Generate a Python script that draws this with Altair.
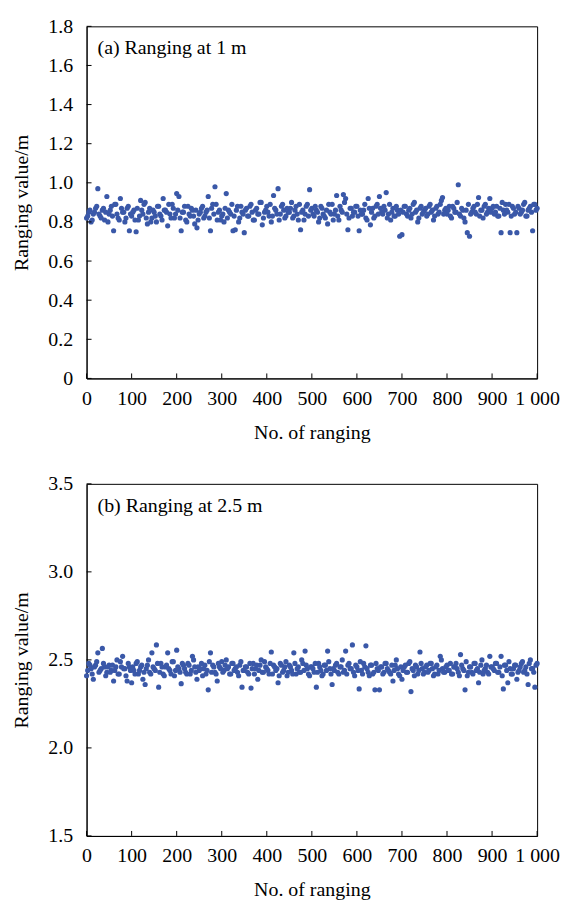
import altair as alt
import pandas as pd

FONT = "Times New Roman, Liberation Serif, DejaVu Serif, serif"
DOT = "#3A58A8"

# ranging index for the main series (0..1000 step 5) and the in-between series
x_main = list(range(0, 1001, 5))
x_fill = [2.5 + 5 * i for i in range(200)]

# (a) ranging at 1 m
top_main = [
    0.82, 0.85, 0.80, 0.84, 0.87, 0.97, 0.83, 0.86, 0.81, 0.93,
    0.84, 0.88, 0.755, 0.89, 0.82, 0.92, 0.85, 0.80, 0.87, 0.755,
    0.83, 0.86, 0.75, 0.81, 0.91, 0.84, 0.90, 0.79, 0.87, 0.82,
    0.85, 0.80, 0.88, 0.83, 0.92, 0.86, 0.78, 0.84, 0.89, 0.82,
    0.945, 0.93, 0.755, 0.85, 0.81, 0.88, 0.83, 0.86, 0.79, 0.77,
    0.84, 0.87, 0.82, 0.85, 0.93, 0.755, 0.89, 0.98, 0.81, 0.86,
    0.83, 0.80, 0.945, 0.86, 0.84, 0.755, 0.76, 0.88, 0.82, 0.85,
    0.745, 0.87, 0.83, 0.89, 0.81, 0.86, 0.84, 0.90, 0.785, 0.85,
    0.88, 0.83, 0.80, 0.935, 0.86, 0.97, 0.84, 0.89, 0.82, 0.87,
    0.85, 0.90, 0.83, 0.88, 0.81, 0.76, 0.86, 0.84, 0.89, 0.965,
    0.87, 0.83, 0.86, 0.80, 0.88, 0.84, 0.82, 0.79, 0.85, 0.89,
    0.84, 0.935, 0.81, 0.86, 0.94, 0.92, 0.76, 0.87, 0.83, 0.85,
    0.88, 0.755, 0.84, 0.86, 0.82, 0.92, 0.785, 0.87, 0.83, 0.89,
    0.93, 0.85, 0.88, 0.95, 0.84, 0.81, 0.87, 0.83, 0.86, 0.727,
    0.735, 0.88, 0.84, 0.86, 0.82, 0.89, 0.85, 0.80, 0.87, 0.84,
    0.86, 0.83, 0.88, 0.85, 0.81, 0.87, 0.84, 0.89, 0.925, 0.86,
    0.84, 0.88, 0.82, 0.87, 0.85, 0.99, 0.83, 0.86, 0.80, 0.745,
    0.727, 0.85, 0.88, 0.84, 0.925, 0.86, 0.82, 0.89, 0.85, 0.92,
    0.87, 0.84, 0.88, 0.83, 0.745, 0.86, 0.89, 0.85, 0.745, 0.88,
    0.84, 0.745, 0.87, 0.85, 0.89, 0.83, 0.86, 0.88, 0.755, 0.89,
    0.87,
]
top_fill = [
    0.83, 0.86, 0.81, 0.85, 0.88, 0.84, 0.82, 0.87, 0.85, 0.80,
    0.86, 0.83, 0.89, 0.84, 0.81, 0.87, 0.85, 0.82, 0.88, 0.84,
    0.85, 0.81, 0.87, 0.83, 0.86, 0.89, 0.82, 0.85, 0.80, 0.86,
    0.83, 0.88, 0.84, 0.81, 0.86, 0.85, 0.89, 0.82, 0.87, 0.84,
    0.86, 0.82, 0.85, 0.88, 0.80, 0.84, 0.87, 0.83, 0.86, 0.81,
    0.85, 0.88, 0.83, 0.86, 0.82, 0.87, 0.84, 0.89, 0.85, 0.81,
    0.84, 0.87, 0.82, 0.85, 0.89, 0.83, 0.86, 0.80, 0.88, 0.84,
    0.86, 0.83, 0.88, 0.85, 0.81, 0.87, 0.84, 0.90, 0.82, 0.86,
    0.85, 0.89, 0.83, 0.87, 0.84, 0.81, 0.88, 0.86, 0.83, 0.85,
    0.87, 0.82, 0.86, 0.84, 0.89, 0.85, 0.81, 0.88, 0.83, 0.86,
    0.84, 0.88, 0.85, 0.82, 0.87, 0.83, 0.86, 0.89, 0.84, 0.81,
    0.86, 0.83, 0.88, 0.85, 0.90, 0.84, 0.82, 0.87, 0.85, 0.88,
    0.83, 0.86, 0.84, 0.89, 0.81, 0.87, 0.85, 0.82, 0.88, 0.84,
    0.87, 0.84, 0.86, 0.82, 0.89, 0.85, 0.83, 0.88, 0.84, 0.86,
    0.85, 0.88, 0.83, 0.87, 0.84, 0.90, 0.86, 0.82, 0.88, 0.85,
    0.87, 0.84, 0.89, 0.86, 0.83, 0.88, 0.85, 0.91, 0.84, 0.87,
    0.86, 0.83, 0.88, 0.85, 0.90, 0.84, 0.87, 0.82, 0.86, 0.89,
    0.84, 0.87, 0.85, 0.89, 0.83, 0.86, 0.88, 0.84, 0.87, 0.85,
    0.88, 0.85, 0.83, 0.87, 0.90, 0.84, 0.86, 0.89, 0.83, 0.87,
    0.85, 0.88, 0.84, 0.86, 0.90, 0.83, 0.87, 0.85, 0.89, 0.86,
]

# (b) ranging at 2.5 m
bot_main = [
    2.41, 2.48, 2.45, 2.39, 2.47, 2.54, 2.44, 2.565, 2.46, 2.43,
    2.47, 2.44, 2.38, 2.46, 2.42, 2.49, 2.52, 2.45, 2.38, 2.46,
    2.37, 2.44, 2.48, 2.42, 2.46, 2.39, 2.36, 2.47, 2.43, 2.54,
    2.45, 2.585, 2.345, 2.48, 2.42, 2.46, 2.54, 2.44, 2.49, 2.41,
    2.555, 2.45, 2.365, 2.47, 2.43, 2.48, 2.42, 2.52, 2.46, 2.39,
    2.44, 2.48, 2.45, 2.42, 2.33, 2.54, 2.47, 2.43, 2.38, 2.46,
    2.49, 2.44, 2.50, 2.46, 2.42, 2.48, 2.45, 2.43, 2.47, 2.345,
    2.44, 2.46, 2.42, 2.34, 2.48, 2.45, 2.39, 2.47, 2.43, 2.49,
    2.45, 2.42, 2.545, 2.47, 2.44, 2.37, 2.48, 2.43, 2.46, 2.41,
    2.47, 2.44, 2.54, 2.42, 2.46, 2.43, 2.48, 2.55, 2.45, 2.41,
    2.46, 2.43, 2.345, 2.48, 2.44, 2.42, 2.47, 2.55, 2.45, 2.36,
    2.44, 2.48, 2.42, 2.46, 2.43, 2.55, 2.47, 2.45, 2.585, 2.41,
    2.46, 2.335, 2.44, 2.48, 2.58, 2.43, 2.47, 2.42, 2.33, 2.45,
    2.33, 2.46, 2.43, 2.48, 2.44, 2.42, 2.38, 2.47, 2.45, 2.41,
    2.39, 2.46, 2.43, 2.48, 2.32, 2.44, 2.47, 2.42, 2.545, 2.45,
    2.43, 2.47, 2.44, 2.48, 2.41, 2.46, 2.42, 2.52, 2.45, 2.43,
    2.47, 2.44, 2.42, 2.46, 2.48, 2.43, 2.53, 2.45, 2.33, 2.41,
    2.46, 2.43, 2.48, 2.44, 2.37, 2.47, 2.42, 2.45, 2.43, 2.52,
    2.46, 2.44, 2.48, 2.43, 2.52, 2.335, 2.47, 2.37, 2.45, 2.42,
    2.47, 2.39, 2.44, 2.48, 2.43, 2.46, 2.36, 2.50, 2.45, 2.345,
    2.48,
]
bot_fill = [
    2.44, 2.47, 2.42, 2.46, 2.49, 2.43, 2.45, 2.48, 2.41, 2.46,
    2.43, 2.47, 2.44, 2.50, 2.42, 2.46, 2.45, 2.41, 2.48, 2.44,
    2.46, 2.42, 2.49, 2.44, 2.47, 2.43, 2.45, 2.50, 2.42, 2.46,
    2.44, 2.48, 2.43, 2.46, 2.41, 2.47, 2.45, 2.42, 2.49, 2.44,
    2.46, 2.43, 2.48, 2.45, 2.42, 2.47, 2.44, 2.50, 2.43, 2.46,
    2.45, 2.41, 2.47, 2.44, 2.49, 2.43, 2.46, 2.42, 2.48, 2.45,
    2.43, 2.47, 2.45, 2.42, 2.48, 2.44, 2.46, 2.41, 2.49, 2.44,
    2.46, 2.43, 2.48, 2.45, 2.42, 2.47, 2.44, 2.50, 2.43, 2.46,
    2.44, 2.48, 2.42, 2.46, 2.45, 2.41, 2.47, 2.44, 2.49, 2.43,
    2.46, 2.42, 2.48, 2.45, 2.43, 2.50, 2.44, 2.47, 2.42, 2.46,
    2.45, 2.48, 2.43, 2.46, 2.41, 2.47, 2.44, 2.49, 2.42, 2.45,
    2.47, 2.43, 2.46, 2.50, 2.44, 2.42, 2.48, 2.45, 2.43, 2.47,
    2.44, 2.49, 2.42, 2.46, 2.45, 2.41, 2.47, 2.43, 2.48, 2.44,
    2.46, 2.42, 2.48, 2.45, 2.43, 2.47, 2.44, 2.50, 2.42, 2.46,
    2.44, 2.47, 2.43, 2.49, 2.45, 2.41, 2.46, 2.44, 2.48, 2.42,
    2.46, 2.43, 2.48, 2.45, 2.42, 2.47, 2.44, 2.50, 2.43, 2.46,
    2.44, 2.48, 2.42, 2.46, 2.45, 2.41, 2.47, 2.44, 2.49, 2.43,
    2.46, 2.42, 2.48, 2.45, 2.43, 2.50, 2.44, 2.47, 2.42, 2.46,
    2.45, 2.48, 2.43, 2.46, 2.41, 2.47, 2.44, 2.49, 2.42, 2.45,
    2.47, 2.43, 2.46, 2.49, 2.44, 2.42, 2.48, 2.45, 2.43, 2.47,
]

x_ticks = [0, 100, 200, 300, 400, 500, 600, 700, 800, 900, 1000]
top_yticks = [0, 0.2, 0.4, 0.6, 0.8, 1.0, 1.2, 1.4, 1.6, 1.8]
bot_yticks = [1.5, 2.0, 2.5, 3.0, 3.5]

W = 453
H = 354
XT = "No. of ranging"
YT = "Ranging value/m"


def panel(main_vals, fill_vals, ydomain, yticks, label, ylabel_expr):
    df = pd.DataFrame({"n": x_main + x_fill, "v": main_vals + fill_vals})
    xs = alt.Scale(domain=[0, 1000], nice=False, zero=False)
    ys = alt.Scale(domain=ydomain, nice=False, zero=False)
    xaxis = alt.Axis(values=x_ticks, format="d", labelOverlap=False, labelFlush=False,
                     labelExpr="datum.value == 1000 ? '1 000' : datum.label")
    yaxis = alt.Axis(values=yticks, labelOverlap=False, labelFlush=False,
                     labelExpr=ylabel_expr)
    pts = alt.Chart(df).mark_circle(size=27, color=DOT, opacity=1).encode(
        x=alt.X("n:Q", scale=xs, title=XT, axis=xaxis),
        y=alt.Y("v:Q", scale=ys, title=YT, axis=yaxis),
    )
    xt = alt.Chart(pd.DataFrame({"t": x_ticks})).mark_rule(color="black", strokeWidth=1).encode(
        x=alt.X("t:Q", scale=xs, title=XT, axis=xaxis),
        y=alt.value(H - 5), y2=alt.value(H),
    )
    yt = alt.Chart(pd.DataFrame({"t": yticks})).mark_rule(color="black", strokeWidth=1).encode(
        y=alt.Y("t:Q", scale=ys, title=YT, axis=yaxis),
        x=alt.value(0), x2=alt.value(5),
    )
    txt = alt.Chart(pd.DataFrame({"s": [label]})).mark_text(
        align="left", baseline="middle", font=FONT, fontSize=20, color="black"
    ).encode(text="s:N", x=alt.value(11), y=alt.value(22))
    return alt.layer(pts, xt, yt, txt).properties(width=W, height=H)


top = panel(top_main, top_fill, [0, 1.8], top_yticks, "(a) Ranging at 1 m",
            "datum.value == 0 ? '0' : format(datum.value, '.1f')")
bot = panel(bot_main, bot_fill, [1.5, 3.5], bot_yticks, "(b) Ranging at 2.5 m",
            "format(datum.value, '.1f')")

chart = alt.vconcat(top, bot, spacing=30).properties(
    padding={"left": 3, "top": 5, "right": 0, "bottom": 0}
).configure_view(
    stroke="black", strokeWidth=1
).configure_axis(
    grid=False, ticks=False, domainColor="black", domainWidth=1,
    labelFont=FONT, labelFontSize=20, labelColor="black",
    titleFont=FONT, titleFontSize=20, titleColor="black", titleFontWeight="normal",
).configure_axisX(
    labelPadding=10, titlePadding=14
).configure_axisY(
    labelPadding=14, titlePadding=16
)

chart.save("out.html", embed_options={"renderer": "svg", "actions": False})
